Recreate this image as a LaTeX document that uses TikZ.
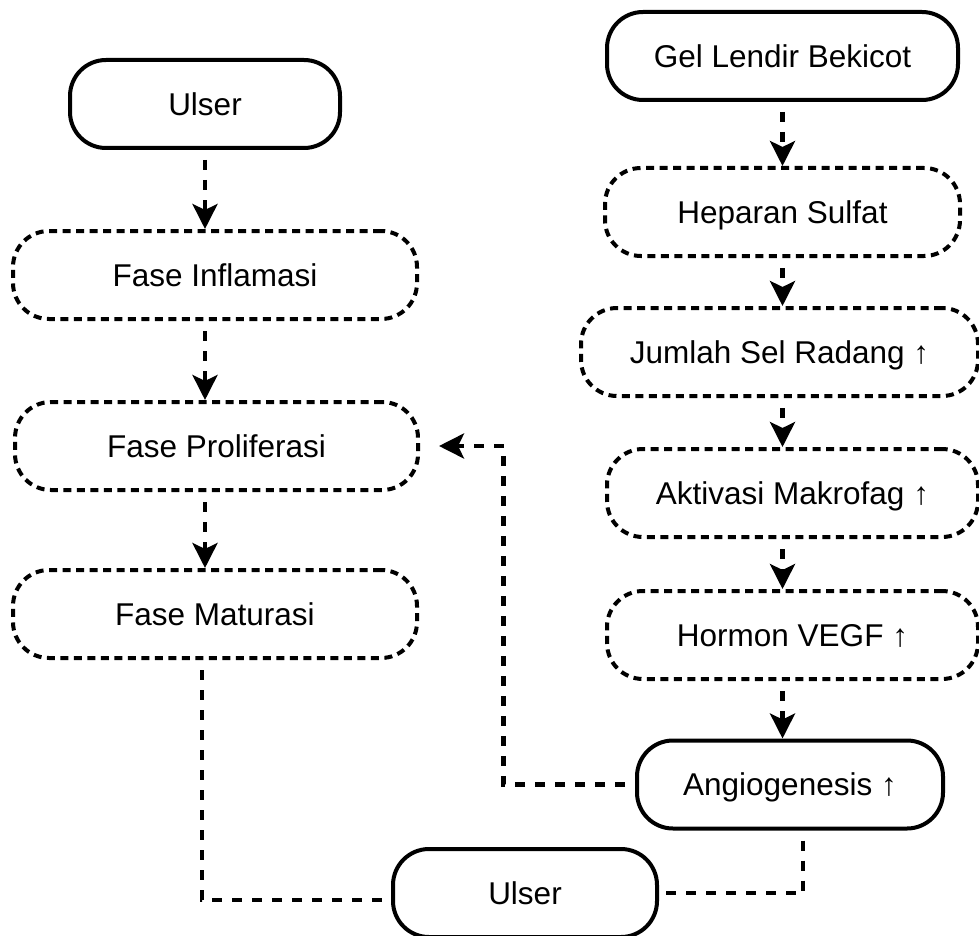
\documentclass[tikz,border=0pt]{standalone}
\usepackage{fontspec}
\setmainfont{Liberation Sans}
\usetikzlibrary{arrows.meta,calc}
\begin{document}
\begin{tikzpicture}[x=1pt,y=-1pt,
  box/.style={draw, line width=4pt, rounded corners=36pt, minimum height=88pt,
    align=center, font=\fontsize{31.5}{38}\selectfont,
    text height=22.5pt, text depth=0pt, inner sep=0pt},
  solidbox/.style={box, solid},
  dashbox/.style={box, dash pattern=on 8pt off 5.5pt},
  conn/.style={line width=4.5pt, dash pattern=on 10pt off 10pt, dash phase=10pt,
    -{Stealth[length=25pt,width=25pt,inset=6pt]}},
  link/.style={line width=4.5pt, dash pattern=on 10pt off 10pt, dash phase=10pt}]
\useasboundingbox (0,0) rectangle (979,936);
% left column
\node[solidbox, minimum width=270pt] (u1) at (205,104) {Ulser};
\node[dashbox, minimum width=404pt] (fi) at (215,275) {Fase Inflamasi};
\node[dashbox, minimum width=403pt] (fp) at (216.5,446) {Fase Proliferasi};
\node[dashbox, minimum width=404pt] (fm) at (215,614) {Fase Maturasi};
% right column
\node[solidbox, minimum width=351pt] (gel) at (782.5,56) {Gel Lendir Bekicot};
\node[dashbox, minimum width=355pt] (hep) at (782.5,212) {Heparan Sulfat};
\node[dashbox, minimum width=397pt] (jsr) at (779.5,352) {Jumlah Sel Radang ↑};
\node[dashbox, minimum width=371pt] (akt) at (792.5,493) {Aktivasi Makrofag ↑};
\node[dashbox, minimum width=371pt] (hor) at (792.5,635) {Hormon VEGF ↑};
\node[solidbox, minimum width=306pt] (ang) at (790,784.5) {Angiogenesis ↑};
\node[solidbox, minimum width=264pt] (u2) at (525,893) {Ulser};
% connectors left
\draw[conn] (u1.south) -- (u1.south |- fi.north);
\draw[conn] (u1.south |- fi.south) -- (u1.south |- fp.north);
\draw[conn] (u1.south |- fp.south) -- (u1.south |- fm.north);
\draw[link] ([xshift=-3pt]u1.south |- fm.south) |- ([yshift=-7pt]u2.west);
% connectors right
\draw[conn] (gel.south) -- (gel.south |- hep.north);
\draw[conn] (hep.south) -- (hep.south |- jsr.north);
\draw[conn] (hep.south |- jsr.south) -- (hep.south |- akt.north);
\draw[conn] (hep.south |- akt.south) -- (hep.south |- hor.north);
\draw[conn] (hep.south |- hor.south) -- (hep.south |- ang.north);
\draw[conn] (ang.west) -- ++(-131.5,0) |- ([xshift=19pt]fp.east);
\draw[link] ([xshift=13pt]ang.south) |- (u2.east);
\end{tikzpicture}
\end{document}
